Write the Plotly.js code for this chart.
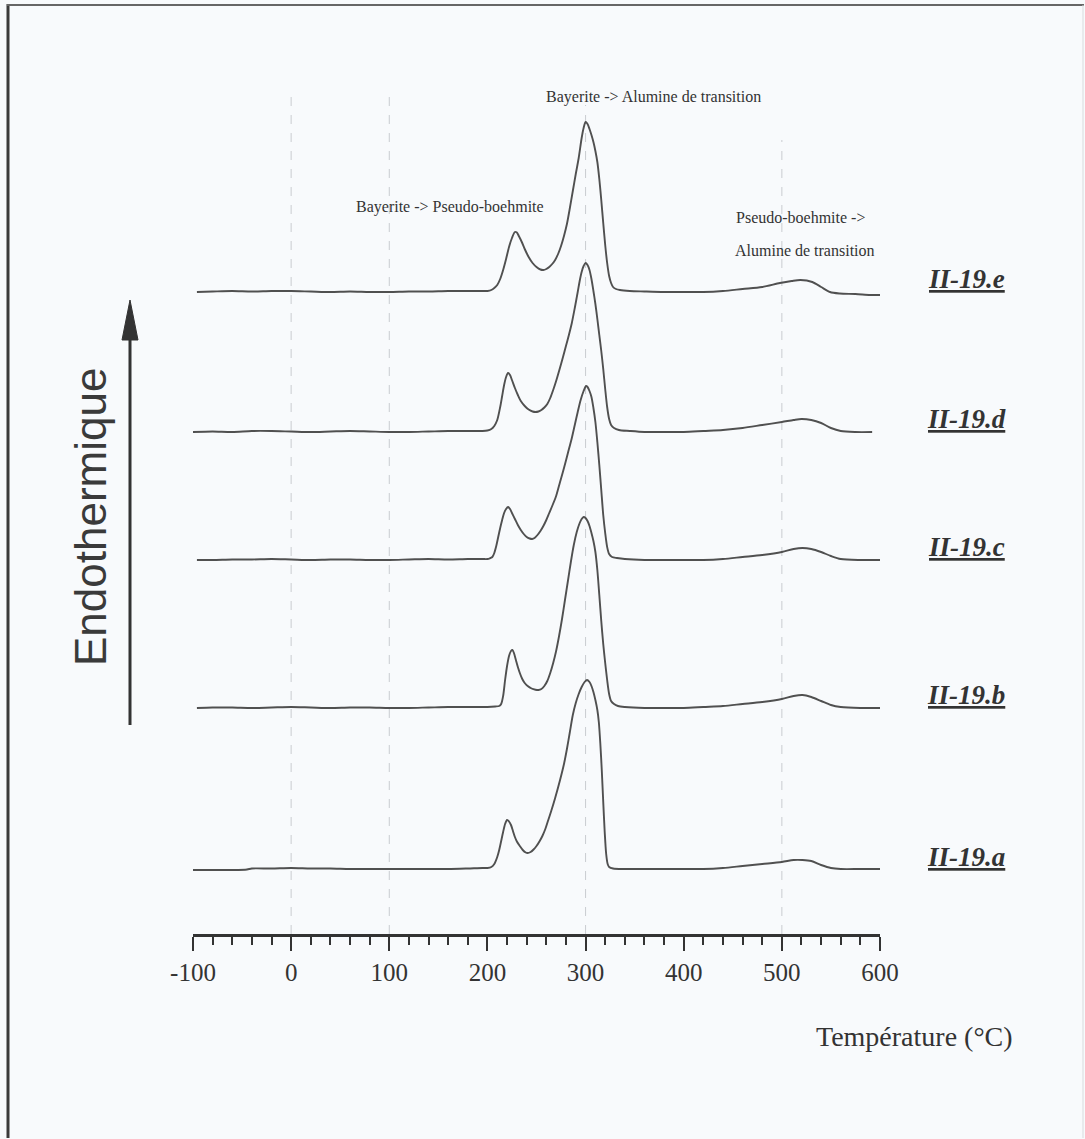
<!DOCTYPE html>
<html>
<head>
<meta charset="utf-8">
<script src="https://cdn.plot.ly/plotly-3.0.1.min.js"></script>
<style>
  html, body { margin: 0; padding: 0; background: #f8fafc; }
  #chart { width: 1085px; height: 1139px; }
</style>
</head>
<body>
<div id="chart"></div>
<script>
// ---- Data (DSC curves, heat flow in arbitrary units above each curve's baseline) ----
const sampleNames = ["II-19.e", "II-19.d", "II-19.c", "II-19.b", "II-19.a"];
const baselineOffsets = [642, 502, 374, 226, 64];

const tempE = [-96,-80,-60,-40,-20,0,20,40,60,80,100,120,140,160,180,195,
  200,204,207,210,213,216,219,222,225,228, 230,232,235,238,242,246,250,254,257,260,
  263,266,269,272,275,278,281,284,287,290, 293,296,298,300,302,304,306,308,310,312,
  314,316,318,320,322,324,326,328,331,335,
  345,360,380,400,420,440,460,480,498,510,519,531,540,549,559,575,590,600];
const heatE = [0,0.5,1,0.5,1,1,0.5,0,0.5,0,0,0.5,0.5,1,1,1,
  1,2,4,7,13,22,33,45,54,60, 59.5,56,50,43,35,29,25,22.5,22,23,
  25,28,32,38,46,56,68,84,101,118, 134,154,164,170,168,163,157,150,141,130,
  113,92,69,47,29,16,9,5,3,2,
  1,0.5,0,0,0,1,3,5,9,11,12,10,5,0,-1.5,-2,-3,-3];

const tempD = [-100,-80,-60,-40,-20,0,20,40,60,80,100,120,140,160,180,195,
  200,204,207,210,213,215,217,219,221,223, 225,228,231,234,238,242,246,249,252,255,
  258,261,264,267,270,273,277,280,283,286, 289,292,294,296,298,300,302,304,306,308,
  310,312,314,316,318,320,322,324,326,329, 334,
  345,360,380,400,420,440,460,480,500,512,520,530,540,550,560,575,592];
const heatD = [0,0.5,0,1,1,0.5,0,0.5,1,0.5,0,0,0.5,1,1,1,
  1.5,3,6,12,25,36,47,55,59,57, 52,44,37,31,26,22.5,20.5,20,20.5,22,
  24.5,28,34,42,51,61,75,86,97,109, 124,140,151,160,166,169,167,162,153,141,
  128,113,97,81,63,43,25,13,7,4, 2,
  1,0,0,0,1,2,4,7,10,12,13,12,9,4,1,0,0];

const tempC = [-96,-80,-60,-40,-20,0,20,40,60,80,100,120,140,160,180,195,
  200,203,205,207,209,211,213,215,217,219, 221,223,225,228,231,234,237,240,243,245.6,
  248,251,254,257,260,263,266,270,274,278, 282,286,289,292,295,298,300.5,302,304,306,
  308,310,312,314,316,318,320,322,324,327, 332,
  340,360,380,400,420,440,460,480,500,512,521,530,540,550,560,580,600];
const heatC = [0,0,0.5,0.5,1,0.5,0,0.5,0.5,0,0,0.5,1,0.5,1,1,
  1,2,3,7,14,23,32,40,47,51, 53,51,47,41,35,30,26,23,21.5,21,
  22,25,29,34,40,47,54,64,78,92, 107,122,135,148,160,169,174,173,169,163,
  152,138,118,95,70,45,27,13,6,3, 2,
  1,0,0,0,0,1,3,5,8,11,12,11,8,4,1,0,0];

const tempB = [-96,-80,-60,-40,-20,0,20,40,60,80,100,120,140,160,180,200,
  208,212,214,216,218,220,222,224,225.5,227, 229,231,233,235.5,238,241,245,249,252,255,
  258,261,264,267,270,273,276,279,282,285, 288,291,294,296,298,300,302,304,306,308,
  310,312,314,316,318,320,322,324,326,329, 333,
  340,360,380,400,420,440,460,480,500,512,521,530,540,550,560,580,600];
const heatB = [0,0.5,0.5,0,0.5,1,0.5,0,0.5,0.5,0,0,0.5,1,1,1,
  1.5,2,4,12,28,42,52,57,58,55, 48,41,35,29,25,22,19.5,18.3,18,19,
  22,27,35,45,57,72,89,108,127,146, 163,176,185,189,191,190,187,182,175,167,
  156,138,113,87,64,45,28,14,7,4, 2,
  1,0,0,0,1,2,4,6,9,12,13,11,7,3,1,0,0];

const tempA = [-100,-80,-60,-45,-40,-20,0,20,40,60,80,100,120,140,160,180,195,
  200,204,207,210,212,214,216,218,220,222, 224,226,228,230,233,236,239,241,244,247,
  250,253,256,259,262,265,269,274,278,281, 284,287,290,293,296,299,301.5,304,306,308,
  310,312,313.5,315,316.5,318,319.5,321,322.5,324, 328,
  340,360,380,400,420,440,460,480,500,512,521,530,540,550,560,580,600];
const heatA = [0,0,0,0.5,1.5,1.5,2,1.5,1.5,1,1,1,1,1,1,1.5,2,
  2,3,6,13,20,29,38,46,50,48.5, 45,39,33,28.5,24,20,17.5,17,18,20.5,
  24,28.5,34,41,50,59,72,90,106,121, 138,155,167,176,183,188,190,188,184,178,
  170,160,148,127,100,68,38,16,6,3, 1.5,
  1,1,1,1,1,2,4,6,8,10,10,9,5,2,1,1,1];

const temps = [tempE, tempD, tempC, tempB, tempA];
const heats = [heatE, heatD, heatC, heatB, heatA];

const xTickVals = [-100, 0, 100, 200, 300, 400, 500, 600];
const xTickText = ["-100", "0", "100", "200", "300", "400", "500", "600"];
const gridVals = [0, 100, 300, 500];

const peakLabels = ["Bayerite -> Alumine de transition", "Bayerite -> Pseudo-boehmite",
                    "Pseudo-boehmite ->", "Alumine de transition"];
const xAxisLabel = "Température (°C)";
const yAxisLabel = "Endothermique";

// ---- Geometry helpers (layout) ----
const W = 1085, H = 1139;
const M = {l: 193, r: 205, t: 84, b: 205};
const PW = W - M.l - M.r, PH = H - M.t - M.b;
const X_MIN = -100, X_MAX = 600, Y_MAX = PH;
const pxX = px => (px - M.l) / PW;           // pixel -> paper x
const pxY = py => (H - M.b - py) / PH;       // pixel -> paper y

const lineColor = "#505050";
const traces = temps.map((t, i) => ({
  x: t,
  y: heats[i].map(v => v + baselineOffsets[i]),
  type: "scatter",
  mode: "lines",
  name: sampleNames[i],
  line: {color: lineColor, width: 1.9, shape: "spline", smoothing: 0.8},
  hoverinfo: "skip"
}));

const serif = "Liberation Serif, Times New Roman, serif";
const annotations = [];
// peak descriptions
const descPos = [[653, 97], [450, 207], [800, 218], [805, 251]];
peakLabels.forEach((txt, i) => {
  annotations.push({
    text: txt, xref: "paper", yref: "paper",
    x: pxX(descPos[i][0]), y: pxY(descPos[i][1]),
    xanchor: "center", yanchor: "middle", showarrow: false,
    font: {family: serif, size: 16, color: "#333"}
  });
});
// sample labels
const labelPxX = 966;
sampleNames.forEach((nm, i) => {
  const baselinePx = H - M.b - baselineOffsets[i];
  annotations.push({
    text: "<b><i><u>" + nm + "</u></i></b>", xref: "paper", yref: "paper",
    x: pxX(labelPxX), y: pxY(baselinePx - 13),
    xanchor: "center", yanchor: "middle", showarrow: false,
    font: {family: serif, size: 27, color: "#333"}
  });
});
// x-axis title
annotations.push({
  text: xAxisLabel, xref: "paper", yref: "paper",
  x: pxX(914), y: pxY(1036), xanchor: "center", yanchor: "middle", showarrow: false,
  font: {family: serif, size: 28, color: "#333"}
});
// Endothermique
annotations.push({
  text: yAxisLabel, xref: "paper", yref: "paper",
  x: pxX(90), y: pxY(517), xanchor: "center", yanchor: "middle", showarrow: false,
  textangle: -90,
  font: {family: "Liberation Sans, Arial, sans-serif", size: 44, color: "#3a3a3a"}
});

const shapes = [];
// dashed vertical gridlines
const gridTopPx = [93, 93, 105, 140];
gridVals.forEach((g, i) => {
  shapes.push({
    type: "line", xref: "x", yref: "paper",
    x0: g, x1: g, y0: 0, y1: pxY(gridTopPx[i]),
    line: {color: "#c9ccd0", width: 1, dash: "dash"}, layer: "below"
  });
});
// arrow shaft + head
shapes.push({type: "line", xref: "paper", yref: "paper",
  x0: pxX(130), x1: pxX(130), y0: pxY(725), y1: pxY(330),
  line: {color: "#333", width: 3}});
shapes.push({type: "path", xref: "paper", yref: "paper",
  path: `M ${pxX(130)} ${pxY(300)} L ${pxX(122)} ${pxY(340)} L ${pxX(138)} ${pxY(340)} Z`,
  fillcolor: "#333", line: {color: "#333", width: 1}});
// outer frame
shapes.push({type: "line", xref: "paper", yref: "paper",
  x0: pxX(8), x1: pxX(8), y0: pxY(4), y1: pxY(1138), line: {color: "#3a3a3a", width: 3}});
shapes.push({type: "line", xref: "paper", yref: "paper",
  x0: pxX(7), x1: pxX(1084), y0: pxY(5), y1: pxY(5), line: {color: "#666", width: 2}});
shapes.push({type: "line", xref: "paper", yref: "paper",
  x0: pxX(1083), x1: pxX(1083), y0: pxY(5), y1: pxY(1138), line: {color: "#d8dbde", width: 1}});

const layout = {
  width: W, height: H,
  margin: M,
  paper_bgcolor: "#f8fafc",
  plot_bgcolor: "#f8fafc",
  showlegend: false,
  xaxis: {
    range: [X_MIN, X_MAX],
    tickmode: "array", tickvals: xTickVals, ticktext: xTickText,
    ticks: "outside", ticklen: 14, tickwidth: 2, tickcolor: "#333",
    showline: true, linecolor: "#333", linewidth: 3,
    showgrid: false, zeroline: false,
    tickfont: {family: serif, size: 25, color: "#333"},
    minor: {tickmode: "linear", tick0: -100, dtick: 20, ticks: "outside", ticklen: 8, tickwidth: 2, tickcolor: "#333", showgrid: false},
    fixedrange: true
  },
  yaxis: {
    range: [0, Y_MAX], visible: false, fixedrange: true
  },
  annotations: annotations,
  shapes: shapes
};

Plotly.newPlot("chart", traces, layout, {staticPlot: true, displayModeBar: false});
</script>
</body>
</html>
